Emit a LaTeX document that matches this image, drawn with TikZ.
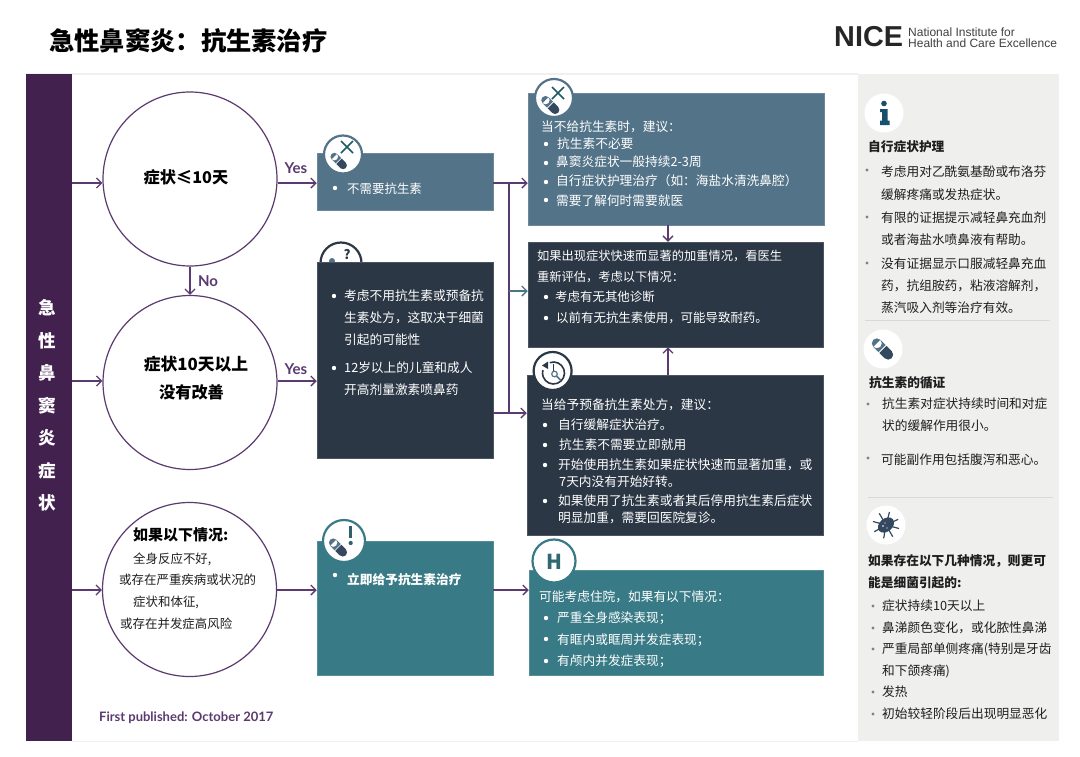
\documentclass[tikz,border=0pt]{standalone}
\usepackage{fontspec}
\usetikzlibrary{arrows.meta}
\setmainfont{Noto Sans CJK SC}
\newfontfamily\latofont{Lato}
\newfontfamily\logofont{Liberation Sans}
\definecolor{bandpurple}{HTML}{43214F}
\definecolor{linepurple}{HTML}{5B3A70}
\definecolor{slateblue}{HTML}{537388}
\definecolor{darknavy}{HTML}{2B3745}
\definecolor{tealbox}{HTML}{387A85}
\definecolor{panelgrey}{HTML}{EFEFEE}
\definecolor{pilldark}{HTML}{34495F}
\definecolor{xteal}{HTML}{1F5A66}
\definecolor{infoblue}{HTML}{17506E}
\definecolor{bodyink}{HTML}{1E1E1E}
\newcounter{tl}
% line of text: x, y(centre), style, text
\newcommand{\tline}[4]{\stepcounter{tl}\node[txt,#3] (tl\arabic{tl}) at (#1,#2) {#4};}
\newcommand{\bul}[2]{\fill[white] (#1,#2) circle (2.2);}
\newcommand{\gbul}[2]{\fill[black!50] (#1,#2) circle (1.6);}
\tikzset{
  x=1pt,y=-1pt,
  txt/.style={anchor=west,inner sep=0pt,font=\fontsize{12.7}{14}\selectfont,text=bodyink},
  wt/.style={text=white},
  hd/.style={font=\fontsize{12.7}{14}\selectfont\bfseries},
  tight/.style={font=\fontsize{12.25}{14}\selectfont},
  mid/.style={font=\fontsize{12.45}{14}\selectfont},
  boxn/.style={rectangle,inner sep=0pt,line width=.5pt},
  ringc/.style={circle,fill=white,line width=1.2pt,inner sep=0pt,minimum size=174pt,draw=linepurple},
  iconring/.style={circle,fill=white,line width=2.2pt,inner sep=0pt,minimum size=38pt},
  plainicon/.style={circle,fill=white,inner sep=0pt,minimum size=39pt},
  arr/.style={draw=linepurple,line width=1.3pt,-{Straight Barb[length=5pt,width=10pt,line width=1.3pt]}},
  link/.style={draw=linepurple,line width=1.3pt},
  big/.style={txt,anchor=center,font=\fontsize{16.2}{18}\selectfont\bfseries,text=black},
  arrowlab/.style={txt,anchor=center,font=\latofont\fontsize{15}{16}\selectfont\bfseries,text=linepurple},
  pics/capsule/.style={code={
    \fill[slateblue] (-8,0) circle (5) (-8,-5) rectangle (-.6,5);
    \fill[pilldark] (8,0) circle (5) (8,-5) rectangle (.6,5);
  }},
}
\begin{document}
\begin{tikzpicture}
\useasboundingbox (0,0) rectangle (1080,756);
\fill[white] (0,0) rectangle (1080,756);
\draw[black!6,line width=1.5pt] (26,74) -- (858,74);
\draw[black!6,line width=1pt] (72,741) -- (858,741);
\fill[panelgrey] (858,74) rectangle (1059,741);
\node[rectangle,fill=bandpurple,minimum width=46pt,minimum height=667pt,inner sep=0pt] (band) at (49,407.5) {};
% title and logo
\node[txt,font=\fontsize{25.3}{28}\selectfont\bfseries,text=black] (title) at (49,41) {急性鼻窦炎：抗生素治疗};
\node[txt,font=\logofont\fontsize{28.8}{30}\selectfont\bfseries,text=black!85] (logo) at (834,37) {NICE};
\node[txt,font=\logofont\fontsize{12}{12}\selectfont,text=black!75] (logoa) at (908,32) {National Institute for};
\node[txt,font=\logofont\fontsize{12}{12}\selectfont,text=black!75] (logob) at (908,43) {Health and Care Excellence};
% band text
\foreach \ch/\yy [count=\i] in {急/308,性/341,鼻/373,窦/406,炎/438,症/471,状/503}
  \node[txt,anchor=center,font=\fontsize{17.5}{19}\selectfont\bfseries,text=white] (bandch\i) at (47,\yy) {\ch};
% icon partly hidden behind its box
\node[iconring,draw=darknavy,minimum size=41pt] (iq) at (341,263) {};
\node[txt,anchor=center,font=\fontsize{13}{14}\selectfont\bfseries,text=darknavy] (iqm) at (347,255) {?};
\fill[slateblue] (332,261) circle (3);
% boxes
\node[boxn,fill=slateblue,draw=slateblue!85!white,minimum width=176pt,minimum height=57pt] (b1) at (405,181.5) {};
\node[boxn,fill=darknavy,draw=darknavy!85!white,minimum width=176pt,minimum height=196pt] (b2) at (405,360) {};
\node[boxn,fill=tealbox,draw=tealbox!85!white,minimum width=176pt,minimum height=134pt] (b3) at (405,608) {};
\node[boxn,fill=slateblue,draw=slateblue!85!white,minimum width=296pt,minimum height=132pt] (r1) at (676,159) {};
\node[boxn,fill=darknavy,draw=darknavy!85!white,minimum width=295pt,minimum height=105pt] (r2) at (675.5,294.5) {};
\node[boxn,fill=darknavy,draw=darknavy!85!white,minimum width=296pt,minimum height=160pt] (r3) at (675,455) {};
\node[boxn,fill=tealbox,draw=tealbox!85!white,minimum width=294pt,minimum height=105pt] (r4) at (676,622.5) {};
% icons over boxes
\node[iconring,draw=slateblue] (ix1) at (343,154.5) {};
\node[iconring,draw=slateblue] (ix2) at (554,98) {};
\node[iconring,draw=darknavy] (ick) at (552.6,371) {};
\node[iconring,draw=tealbox,minimum size=42pt] (iex) at (344,541) {};
\node[iconring,draw=tealbox,minimum size=43pt] (ih) at (554,561) {};
\pic[rotate=-45,scale=.77] at (338.7,161) {capsule};
\draw[xteal,line width=1.6pt] (341,141) -- (353,153) (353,141) -- (341,153);
\pic[rotate=-45,scale=.85] at (550.3,105) {capsule};
\draw[xteal,line width=1.6pt] (552,87) -- (564,99) (564,87) -- (552,99);
\pic[rotate=-45,scale=.85] at (338,547.5) {capsule};
\fill[tealbox!80!black] (350.7,543) circle (2.1);
\draw[tealbox!80!black,line width=2.8pt] (350.7,526) -- (350.7,538);
\node[txt,anchor=center,font=\fontsize{20.5}{22}\selectfont\bfseries,text=tealbox!85!black] (ihm) at (554,561.5) {H};
% clock icon
\draw[darknavy,line width=1.6pt] (553.5,373) ++(-110:11) arc[start angle=-110,end angle=195,radius=11];
\fill[darknavy] (542,365.5) -- (548,361.5) -- (548,369) -- cycle;
\draw[darknavy,line width=1.1pt] (553.5,364) -- (553.5,371);
\draw[slateblue,line width=1.2pt] (554.5,374) circle (2.8);
\draw[slateblue,line width=1.6pt] (556.5,376) -- (560.5,380);
% connectors
\coordinate (yA) at (0,183);
\coordinate (yB) at (0,381);
\coordinate (yC) at (0,590);
\coordinate (jx) at (509,0);
\coordinate (yD) at (0,291);
\coordinate (yE) at (0,413);
\coordinate (vx) at (668,0);
\node[ringc] (c1) at (190,179) {};
\node[ringc] (c2) at (190,382.5) {};
\node[ringc] (c3) at (189.5,589.5) {};
\draw[arr] (band.east |- yA) -- (c1.west |- yA);
\draw[arr] (band.east |- yB) -- (c2.west |- yB);
\draw[arr] (band.east |- yC) -- (c3.west |- yC);
\draw[arr] (c1.east |- yA) -- (b1.west |- yA);
\draw[arr] (c2.east |- yB) -- (b2.west |- yB);
\draw[arr] (c3.east |- yC) -- (b3.west |- yC);
\draw[arr] (c1.south) -- (c2.north);
\draw[arr] (b1.east |- yA) -- (r1.west |- yA);
\draw[link] (jx |- yA) -- (jx |- yE);
\draw[link] (b2.east |- yE) -- (jx |- yE);
\draw[arr] (jx |- yE) -- (r3.west |- yE);
\draw[arr,draw=slateblue!70!tealbox] (jx |- yD) -- (r2.west |- yD);
\draw[arr] (vx |- r3.north) -- (vx |- r2.south);
\draw[arr] (vx |- r1.south) -- (vx |- r2.north);
\draw[arr] (b3.east |- yC) -- (r4.west |- yC);
% arrow labels
\node[arrowlab] (yes1) at (296,168) {Yes};
\node[arrowlab] (yes2) at (296,369) {Yes};
\node[arrowlab] (no1) at (208,281) {No};
% circle text
\node[big] (c1t) at (186,177) {症状≤10天};
\node[big,font=\fontsize{16.8}{18}\selectfont\bfseries] (c2t) at (196,364) {症状10天以上};
\node[big] (c2u) at (191.5,392) {没有改善};
\node[txt,font=\fontsize{15}{16}\selectfont\bfseries,text=black] (c3t) at (133,535) {如果以下情况:};
\tline{133}{559}{mid}{全身反应不好,}
\tline{119}{580}{mid}{或存在严重疾病或状况的}
\tline{133}{602}{mid}{症状和体征,}
\tline{120}{624}{mid}{或存在并发症高风险}
% box 1
\bul{335}{188}
\tline{347}{189}{wt,mid}{不需要抗生素}
% box 2
\bul{334}{296}\bul{334}{368}
\tline{344}{296}{wt}{考虑不用抗生素或预备抗}
\tline{344}{318}{wt}{生素处方，这取决于细菌}
\tline{344}{340}{wt}{引起的可能性}
\tline{344}{368}{wt}{12岁以上的儿童和成人}
\tline{344}{390}{wt}{开高剂量激素喷鼻药}
% box 3
\bul{335}{575}
\tline{347}{580}{wt,hd}{立即给予抗生素治疗}
% right 1
\tline{541}{127}{wt}{当不给抗生素时，建议：}
\bul{546}{144}\bul{546}{163}\bul{546}{182}\bul{546}{200}
\tline{557}{144}{wt}{抗生素不必要}
\tline{556}{162}{wt}{鼻窦炎症状一般持续2-3周}
\tline{556}{181}{wt}{自行症状护理治疗（如：海盐水清洗鼻腔）}
\tline{556}{201}{wt}{需要了解何时需要就医}
% right 2
\tline{537}{256}{wt,tight}{如果出现症状快速而显著的加重情况，看医生}
\tline{537}{277}{wt,tight}{重新评估，考虑以下情况：}
\bul{546}{297}\bul{546}{318}
\tline{555}{297}{wt,mid}{考虑有无其他诊断}
\tline{556}{318}{wt,mid}{以前有无抗生素使用，可能导致耐药。}
% right 3
\tline{541}{405}{wt}{当给予预备抗生素处方，建议：}
\bul{545}{425}\bul{545}{445}\bul{545}{465}\bul{545}{501}
\tline{558}{425}{wt}{自行缓解症状治疗。}
\tline{559}{445}{wt}{抗生素不需要立即就用}
\tline{558}{465}{wt}{开始使用抗生素如果症状快速而显著加重，或}
\tline{559}{482}{wt}{7天内没有开始好转。}
\tline{558}{501}{wt}{如果使用了抗生素或者其后停用抗生素后症状}
\tline{558}{518}{wt}{明显加重，需要回医院复诊。}
% right 4
\tline{539}{597}{wt}{可能考虑住院，如果有以下情况：}
\bul{546}{618}\bul{546}{639}\bul{546}{661}
\tline{557}{618}{wt}{严重全身感染表现；}
\tline{557}{640}{wt}{有眶内或眶周并发症表现；}
\tline{557}{661}{wt}{有颅内并发症表现；}
% side panel
\node[plainicon] (pi) at (884,113) {};
\fill[infoblue] (884,103.5) circle (2.8);
\fill[infoblue] (880,109) -- (887.5,109) -- (887.5,120.5) -- (889.5,120.5) -- (889.5,125) -- (880,125) -- (880,120.5) -- (882,120.5) -- (882,112) -- (880,112) -- cycle;
\tline{868}{147}{hd}{自行症状护理}
\gbul{867}{170}\gbul{867}{217}\gbul{867}{263}
\tline{881}{172}{}{考虑用对乙酰氨基酚或布洛芬}
\tline{881}{195}{}{缓解疼痛或发热症状。}
\tline{881}{218}{}{有限的证据提示减轻鼻充血剂}
\tline{881}{240}{}{或者海盐水喷鼻液有帮助。}
\tline{881}{264}{}{没有证据显示口服减轻鼻充血}
\tline{881}{286}{}{药，抗组胺药，粘液溶解剂，}
\tline{881}{308}{}{蒸汽吸入剂等治疗有效。}
\draw[black!15,line width=.8pt] (865,320) -- (1050,320);
\node[plainicon] (pp) at (883,349) {};
\pic[rotate=-45] at (882.5,349) {capsule};
\tline{869}{383}{hd}{抗生素的循证}
\gbul{868}{404}\gbul{868}{458}
\tline{882}{404}{}{抗生素对症状持续时间和对症}
\tline{882}{426}{}{状的缓解作用很小。}
\tline{881}{460}{}{可能副作用包括腹泻和恶心。}
\draw[black!15,line width=.8pt] (868,497) -- (1053,497);
\node[plainicon] (pb) at (886,525) {};
\begin{scope}[shift={(886,525)}]
\foreach \a in {15,60,100,150,195,240,285,335}
  \draw[pilldark,line width=1.2pt] (\a:6) -- (\a:13.5);
\fill[pilldark,rotate=40] (0,0) ellipse (9 and 6.5);
\fill[white] (-3,1) circle (.8) (1,3) circle (.7) (-1,-2) circle (.7);
\end{scope}
\tline{868}{561}{hd}{如果存在以下几种情况，则更可}
\tline{868}{583}{hd}{能是细菌引起的:}
\gbul{873}{606}\gbul{873}{628}\gbul{873}{649}\gbul{873}{692}\gbul{873}{714}
\tline{882}{606}{}{症状持续10天以上}
\tline{882}{628}{}{鼻涕颜色变化，或化脓性鼻涕}
\tline{882}{649}{}{严重局部单侧疼痛(特别是牙齿}
\tline{882}{671}{}{和下颌疼痛)}
\tline{882}{692}{}{发热}
\tline{882}{714}{}{初始较轻阶段后出现明显恶化}
\node[txt,font=\latofont\fontsize{13}{14}\selectfont\bfseries,text=linepurple] (pub) at (99,718) {First published: October 2017};
\end{tikzpicture}
\end{document}
